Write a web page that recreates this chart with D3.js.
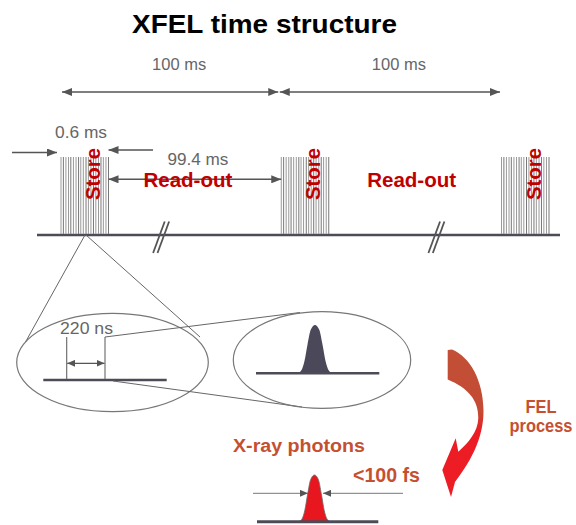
<!DOCTYPE html>
<html><head><meta charset="utf-8">
<script src="https://cdn.jsdelivr.net/npm/d3@7"></script>
<style>html,body{margin:0;padding:0;background:#fff;} svg{display:block;font-family:"Liberation Sans",Arial,sans-serif;}</style>
</head><body><svg id="c" width="576" height="525"></svg>
<script>
// ---- content / values ----
const title = "XFEL time structure";
const trainStartsMs = [0, 100, 200];
const periodLabels = ["100 ms", "100 ms"];
const breaksMs = [45, 170];
const trainLabel = "Store";
const gapLabels = ["Read-out", "Read-out"];
const trainDurationLabel = "0.6 ms";
const gapDurationLabel = "99.4 ms";
const pulseSpacingLabel = "220 ns";
const photonLabel = "X-ray photons";
const photonWidthLabel = "<100 fs";
const processLabel = ["FEL", "process"];
const pulseTimesUs = [0, 30, 62, 95, 124, 157, 190, 222, 250, 282, 316, 346, 378, 410, 440, 474, 505, 535, 568, 600];
const pulseProfile = [[-16,0],[-13,0.05],[-10,0.24],[-7,0.6],[-4,0.9],[0,1],[4,0.9],[7,0.6],[10,0.24],[13,0.05],[16,0]];

// ---- drawing ----
const svg = d3.select("#c");
const GRAY_TXT = "#666666", DARK = "#555555", RED = "#c00000", ORANGE = "#c5502f";
const defs = svg.append("defs");
function marker(id, w, h) {
  defs.append("marker").attr("id", id).attr("markerUnits", "userSpaceOnUse")
    .attr("markerWidth", w).attr("markerHeight", h).attr("refX", w).attr("refY", h / 2)
    .attr("orient", "auto-start-reverse")
    .append("path").attr("d", `M0,0 L${w},${h/2} L0,${h} Z`).attr("fill", DARK);
}
marker("ah", 10, 8);
marker("ahs", 8, 7);
const grad = defs.append("linearGradient").attr("id", "felg").attr("gradientUnits", "userSpaceOnUse")
  .attr("x1", 0).attr("y1", 350).attr("x2", 0).attr("y2", 497);
[[0, "#c24f36"], [0.42, "#c44a34"], [0.55, "#ec1c24"], [1, "#ee1c25"]].forEach(([o, c]) =>
  grad.append("stop").attr("offset", o).attr("stop-color", c));

// Title
svg.append("text").attr("x", 264.5).attr("y", 33).attr("text-anchor", "middle")
  .attr("font-size", 26).attr("font-weight", "bold").attr("fill", "#000")
  .attr("textLength", 265).attr("lengthAdjust", "spacingAndGlyphs").text(title);

// Time scale (schematic)
const x = d3.scaleLinear().domain([0, 200]).range([61, 501.5]);
const trainW = 47.5;
const pulseX = d3.scaleLinear().domain([0, 600]).range([0, trainW]);
const baseY = 235, trainTop = 157;

// 100 ms period arrows
const periods = d3.pairs(trainStartsMs);
periods.forEach(([a, b], i) => {
  const x1 = x(a) + (i === 0 ? 1 : -1.5), x2 = x(b) - (i === 0 ? 3 : 1.5);
  svg.append("line").attr("x1", x1).attr("x2", x2).attr("y1", 92).attr("y2", 92)
    .attr("stroke", DARK).attr("stroke-width", 1.5)
    .attr("marker-start", "url(#ah)").attr("marker-end", "url(#ah)");
  svg.append("text").attr("x", (x1 + x2) / 2 + 9).attr("y", 69.5).attr("text-anchor", "middle")
    .attr("font-size", 16.5).attr("fill", GRAY_TXT).text(periodLabels[i]);
});

// Baseline
svg.append("line").attr("x1", 37).attr("x2", 560).attr("y1", baseY).attr("y2", baseY)
  .attr("stroke", "#4c4b57").attr("stroke-width", 2.6);

// Break marks
breaksMs.forEach(t => {
  const cx = x(t) + 1;
  [-2.2, 2.2].forEach(o => {
    svg.append("line").attr("x1", cx + o - 5.8).attr("y1", baseY + 18)
      .attr("x2", cx + o + 5.8).attr("y2", baseY - 13.5)
      .attr("stroke", "#555").attr("stroke-width", 1.8);
  });
});

// Bunch trains
trainStartsMs.forEach(t => {
  const g = svg.append("g").attr("transform", `translate(${x(t)},0)`);
  g.selectAll("line").data(pulseTimesUs).join("line")
    .attr("x1", d => pulseX(d)).attr("x2", d => pulseX(d))
    .attr("y1", trainTop).attr("y2", baseY - 1)
    .attr("stroke", (d, i) => i % 3 === 1 ? "#777" : "#999").attr("stroke-width", 1);
  g.append("text").attr("transform", `translate(39,200) rotate(-90)`)
    .attr("font-size", 19.5).attr("font-weight", "bold").attr("fill", RED)
    .attr("textLength", 52).attr("lengthAdjust", "spacingAndGlyphs").text(trainLabel);
});

// 0.6 ms arrows
svg.append("line").attr("x1", 12).attr("x2", x(0) - 4).attr("y1", 152.5).attr("y2", 152.5)
  .attr("stroke", DARK).attr("stroke-width", 1.5).attr("marker-end", "url(#ah)");
svg.append("line").attr("x1", 153).attr("x2", x(0) + trainW).attr("y1", 150).attr("y2", 150)
  .attr("stroke", DARK).attr("stroke-width", 1.5).attr("marker-end", "url(#ah)");
svg.append("text").attr("x", 55).attr("y", 137.5).attr("font-size", 16.5).attr("fill", GRAY_TXT)
  .attr("textLength", 52).attr("lengthAdjust", "spacingAndGlyphs").text(trainDurationLabel);

// 99.4 ms read-out arrow
const g1a = x(0) + trainW, g1b = x(100);
svg.append("line").attr("x1", g1a).attr("x2", g1b).attr("y1", 179.3).attr("y2", 179.3)
  .attr("stroke", DARK).attr("stroke-width", 1.5)
  .attr("marker-start", "url(#ah)").attr("marker-end", "url(#ah)");
svg.append("text").attr("x", (g1a + g1b) / 2 + 3).attr("y", 165).attr("text-anchor", "middle")
  .attr("font-size", 16.5).attr("fill", GRAY_TXT)
  .attr("textLength", 61).attr("lengthAdjust", "spacingAndGlyphs").text(gapDurationLabel);

// Read-out labels
periods.forEach(([a, b], i) => {
  const mid = (x(a) + trainW + x(b)) / 2;
  svg.append("text").attr("x", mid + (i === 0 ? -7 : -3.5)).attr("y", 186.7).attr("text-anchor", "middle")
    .attr("font-size", 19.5).attr("font-weight", "bold").attr("fill", RED)
    .attr("textLength", 89).attr("lengthAdjust", "spacingAndGlyphs").text(gapLabels[i]);
});

// Zoom cone to ellipse 1
const apexX = x(0) + 24, apexY = baseY;
svg.append("line").attr("x1", apexX).attr("y1", apexY).attr("x2", 25.5).attr("y2", 342)
  .attr("stroke", "#666").attr("stroke-width", 1);
svg.append("line").attr("x1", apexX + 1).attr("y1", apexY).attr("x2", 200).attr("y2", 337)
  .attr("stroke", "#666").attr("stroke-width", 1);

// Ellipse 1
svg.append("ellipse").attr("cx", 112.5).attr("cy", 362.5).attr("rx", 95.8).attr("ry", 49.2)
  .attr("fill", "none").attr("stroke", "#777").attr("stroke-width", 1.2);
svg.append("line").attr("x1", 43.3).attr("x2", 166.7).attr("y1", 380).attr("y2", 380)
  .attr("stroke", "#4c4b57").attr("stroke-width", 2.6);
[66.7, 105].forEach(v => svg.append("line").attr("x1", v).attr("x2", v).attr("y1", 337).attr("y2", 379)
  .attr("stroke", "#666").attr("stroke-width", 1.1));
svg.append("line").attr("x1", 67.2).attr("x2", 104.5).attr("y1", 363.3).attr("y2", 363.3)
  .attr("stroke", DARK).attr("stroke-width", 1.3)
  .attr("marker-start", "url(#ahs)").attr("marker-end", "url(#ahs)");
svg.append("text").attr("x", 60).attr("y", 334).attr("font-size", 16.5).attr("fill", GRAY_TXT)
  .attr("textLength", 53).attr("lengthAdjust", "spacingAndGlyphs").text(pulseSpacingLabel);

// Cone to ellipse 2
svg.append("line").attr("x1", 105).attr("y1", 337).attr("x2", 300).attr("y2", 312.5)
  .attr("stroke", "#666").attr("stroke-width", 1);
svg.append("line").attr("x1", 113).attr("y1", 381).attr("x2", 302).attr("y2", 407)
  .attr("stroke", "#666").attr("stroke-width", 1);

// Ellipse 2 with electron bunch
svg.append("ellipse").attr("cx", 322).attr("cy", 360).attr("rx", 88.7).attr("ry", 48.3)
  .attr("fill", "none").attr("stroke", "#777").attr("stroke-width", 1.2);
const px2 = d3.scaleLinear().domain([-16, 16]).range([298, 332]);
const py2 = d3.scaleLinear().domain([0, 1]).range([373, 325]);
svg.append("path").datum(pulseProfile)
  .attr("d", d3.area().x(d => px2(d[0])).y0(py2(0)).y1(d => py2(d[1])).curve(d3.curveMonotoneX))
  .attr("fill", "#4b4959");
svg.append("line").attr("x1", 256).attr("x2", 379.3).attr("y1", 373.3).attr("y2", 373.3)
  .attr("stroke", "#4c4b57").attr("stroke-width", 2.6);

// FEL process curved arrow
const p = d3.path();
p.moveTo(447.7, 350);
p.lineTo(452, 349.5);
p.bezierCurveTo(470, 357, 483, 380, 483.5, 410);
p.bezierCurveTo(484, 440, 468, 465, 455, 482);
p.lineTo(451, 497);
p.lineTo(442.3, 470);
p.lineTo(455.7, 438.3);
p.lineTo(458.3, 451.7);
p.bezierCurveTo(468, 443, 478, 432, 478.3, 418);
p.bezierCurveTo(478.5, 400, 468, 388, 447.7, 379.5);
p.closePath();
svg.append("path").attr("d", p.toString()).attr("fill", "url(#felg)");

svg.append("text").attr("x", 541).attr("y", 413.3).attr("text-anchor", "middle")
  .attr("font-size", 18).attr("font-weight", "bold").attr("fill", ORANGE)
  .attr("textLength", 31).attr("lengthAdjust", "spacingAndGlyphs").text(processLabel[0]);
svg.append("text").attr("x", 541).attr("y", 432).attr("text-anchor", "middle")
  .attr("font-size", 17.5).attr("font-weight", "bold").attr("fill", ORANGE)
  .attr("textLength", 63).attr("lengthAdjust", "spacingAndGlyphs").text(processLabel[1]);

svg.append("text").attr("x", 233).attr("y", 451.7)
  .attr("font-size", 17.5).attr("font-weight", "bold").attr("fill", ORANGE)
  .attr("textLength", 132).attr("lengthAdjust", "spacingAndGlyphs").text(photonLabel);
svg.append("text").attr("x", 353).attr("y", 481.7)
  .attr("font-size", 20).attr("font-weight", "bold").attr("fill", ORANGE)
  .attr("textLength", 67).attr("lengthAdjust", "spacingAndGlyphs").text(photonWidthLabel);

// X-ray photon pulse
const px3 = d3.scaleLinear().domain([-16, 16]).range([299, 330]);
const py3 = d3.scaleLinear().domain([0, 1]).range([521.5, 475]);
svg.append("path").datum(pulseProfile)
  .attr("d", d3.area().x(d => px3(d[0])).y0(py3(0)).y1(d => py3(d[1])).curve(d3.curveMonotoneX))
  .attr("fill", "#e8171f").attr("stroke", "#6a6a6a").attr("stroke-width", 0.8);
svg.append("line").attr("x1", 257).attr("x2", 378.3).attr("y1", 521.7).attr("y2", 521.7)
  .attr("stroke", "#4c4b57").attr("stroke-width", 3);
svg.append("line").attr("x1", 253).attr("x2", 308).attr("y1", 493.3).attr("y2", 493.3)
  .attr("stroke", "#777").attr("stroke-width", 1).attr("marker-end", "url(#ahs)");
svg.append("line").attr("x1", 403).attr("x2", 323).attr("y1", 493.3).attr("y2", 493.3)
  .attr("stroke", "#777").attr("stroke-width", 1).attr("marker-end", "url(#ahs)");
</script></body></html>
